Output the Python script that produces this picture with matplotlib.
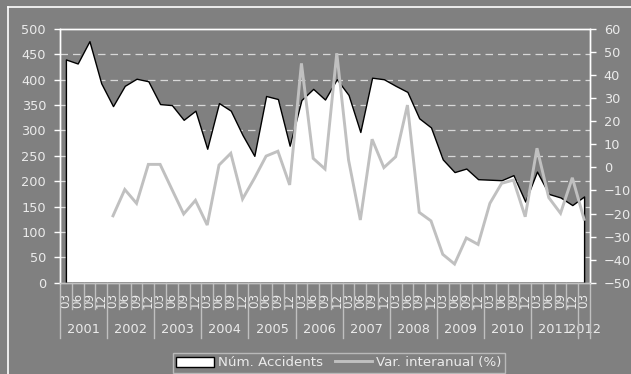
import matplotlib

matplotlib.use("Agg")
import matplotlib.pyplot as plt
from matplotlib.lines import Line2D
from matplotlib.patches import Patch

plt.rcParams["font.family"] = ["DejaVu Sans"]

# quarterly series, 2001 Q1 .. 2012 Q1
years = ["2001", "2002", "2003", "2004", "2005", "2006",
         "2007", "2008", "2009", "2010", "2011", "2012"]
months = ["03", "06", "09", "12"]

accidents = [440, 432, 476, 393, 348, 388, 402, 397, 352, 350, 321, 339,
             264, 354, 339, 291, 250, 368, 362, 270, 360, 382, 361, 401,
             370, 297, 404, 401, 388, 376, 324, 306, 243, 218, 225, 204,
             203, 202, 212, 160, 219, 175, 168, 153, 170]

# year-on-year change (%), first value in 2002 Q1
var_pct = [None, None, None, None,
           -21.0, -9.6, -15.6, 1.3, 1.3, -9.5, -20.2, -14.3,
           -25.0, 1.0, 6.1, -13.7, -4.8, 4.9, 7.0, -7.6,
           45.1, 3.9, -0.7, 49.5, 3.2, -22.8, 12.2, -0.1,
           4.6, 27.0, -19.5, -23.2, -37.7, -41.9, -30.6, -33.4,
           -15.6, -6.9, -5.5, -21.4, 8.3, -13.1, -19.9, -4.5, -22.5]

BG = "#808080"
FG = "white"
TXT = "#ebebeb"
LINE = "#c0c0c0"

labels = []
for y in years:
    for m in months:
        labels.append(m)
labels = labels[:len(accidents)]
x = list(range(len(accidents)))

fig = plt.figure(figsize=(6.31, 3.74), dpi=100, facecolor=BG)
ax = fig.add_axes([0.0951, 0.2441, 0.8399, 0.6784])
ax.set_facecolor(BG)
ax2 = ax.twinx()

# area series on the left axis
ax.fill_between(x, 0, accidents, facecolor="white", edgecolor="black",
                linewidth=1.0, zorder=2)
ax.set_xlim(-0.5, len(x) - 0.5)
ax.set_ylim(0, 500)
ax.set_yticks(range(0, 501, 50))
for v in range(50, 500, 50):
    ax.axhline(v, color="#d8d8d8", lw=0.9, ls=(0, (6, 4)), zorder=1)

# year-on-year line on the right axis
vx = [i for i, v in zip(x, var_pct) if v is not None]
vy = [v for v in var_pct if v is not None]
ax2.plot(vx, vy, color=LINE, lw=2.1, zorder=3, solid_joinstyle="miter")
ax2.set_ylim(-50, 60)
ax2.set_yticks(range(-50, 61, 10))

for a in (ax, ax2):
    a.spines["top"].set_color(FG)
    a.spines["left"].set_color(FG)
    a.spines["right"].set_color(FG)
    a.spines["bottom"].set_color(LINE)
    for s in a.spines.values():
        s.set_linewidth(1.0)
        s.set_zorder(5)
ax.tick_params(axis="y", color=FG, labelcolor=TXT, labelsize=9.3,
               length=4, width=1, pad=6)
ax2.tick_params(axis="y", color=FG, labelcolor=TXT, labelsize=9.3,
                length=4, width=1, pad=6)

# category axis: month labels, separators and year labels
ax.set_xticks(x)
ax.set_xticklabels(labels, rotation=90, fontsize=8.6, color=TXT)
ax.tick_params(axis="x", length=0, pad=7)
trans = ax.get_xaxis_transform()
n = len(x)
for b in range(n + 1):
    pos = b - 0.5
    long_sep = b % 4 == 0 or b == n
    depth = -0.218 if long_sep else -0.102
    ax.plot([pos, pos], [0, depth], transform=trans, color=LINE,
            lw=1.0, clip_on=False, zorder=5)
for k, yr in enumerate(years):
    idx = [i for i in x if i // 4 == k]
    mid = (idx[0] + idx[-1]) / 2
    ax.text(mid, -0.183, yr, transform=trans, ha="center", va="center",
            fontsize=9.3, color=TXT)

# chart frame (top and left edges)
fig.add_artist(Line2D([8 / 631, 1], [1 - 7 / 374] * 2, color=FG, lw=1.2))
fig.add_artist(Line2D([8 / 631] * 2, [0, 1 - 7 / 374], color=FG, lw=1.2))

handles = [Patch(facecolor="white", edgecolor="black", lw=1.0),
           Line2D([], [], color=LINE, lw=2.1)]
leg = fig.legend(handles, ["Núm. Accidents", "Var. interanual (%)"],
                 loc="center", bbox_to_anchor=(0.537, 0.03), ncol=2,
                 fontsize=9.6, frameon=True, fancybox=False,
                 handlelength=2.8, handleheight=0.8, columnspacing=0.9,
                 borderpad=0.25, handletextpad=0.3)
leg.get_frame().set_facecolor(BG)
leg.get_frame().set_edgecolor("#c8c8c8")
leg.get_frame().set_linewidth(1.0)
for t in leg.get_texts():
    t.set_color(TXT)

fig.savefig("out.png", dpi=100, facecolor=BG)
